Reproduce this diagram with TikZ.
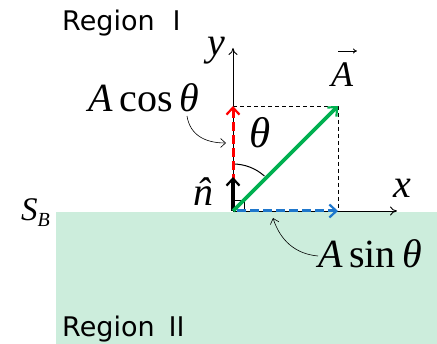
\documentclass[tikz,border=0pt]{standalone}
\usepackage{fontspec}
\setmainfont{Liberation Serif}
\newfontfamily\regfont{DejaVu Sans}
\newfontfamily\numfont{Noto Sans CJK JP}
\usetikzlibrary{arrows.meta}
\definecolor{regbg}{HTML}{CCEDDC}
\definecolor{agreen}{HTML}{00B050}
\definecolor{ared}{HTML}{FF0000}
\definecolor{ablue}{HTML}{1F77CC}
\begin{document}
\begin{tikzpicture}[x=1pt,y=-1pt,
  lbl/.style={inner sep=0pt,anchor=base west},
  mlbl/.style={lbl,font=\fontsize{40}{40}\selectfont\itshape},
  reg/.style={lbl,font=\regfont\fontsize{27}{27}\selectfont},
  axis/.style={line width=0.9pt,-{To[length=7pt,width=9pt]}},
  barb/.style={-{Straight Barb[length=7pt,width=13pt,line width=2.2pt]}},
  thinarr/.style={line width=0.6pt,-{Straight Barb[length=5pt,width=9pt,line width=0.6pt]}},
  guide/.style={line width=0.8pt,dashed,dash pattern=on 4pt off 3pt}]
\useasboundingbox (0,0) rectangle (437,344);
\fill[regbg] (56,212) rectangle (437,344);
% coordinates
\coordinate (O) at (233,211);
\coordinate (ytip) at (233,48);
\coordinate (xtip) at (397,211);
\coordinate (Ptop) at (233,106);
\coordinate (P) at (338,106);
\coordinate (Pbot) at (338,211);
\coordinate (nt) at (233,177);
\coordinate (rs) at (233,183);
\coordinate (bs) at (237,211);
% axes
\draw[axis] (O) -- (ytip);
\draw[axis] (O) -- (xtip);
% dashed box
\draw[guide] (Ptop) -- (P) -- (Pbot);
% right angle
\draw[line width=0.7pt] (233,200) -- (244,200) -- (244,211);
% angle arc
\draw[line width=1pt] (233,164) arc[start angle=-90,end angle=-48,radius=47];
% red dashed
\draw[ared,line width=3pt,dash pattern=on 9pt off 4pt,barb] (rs) -- (Ptop);
% blue dashed
\draw[ablue,line width=3pt,dash pattern=on 9pt off 4pt,barb] (bs) -- (Pbot);
% n hat
\draw[black,line width=4pt,barb] (O) -- (nt);
% green vector
\draw[agreen,line width=3.6pt,barb] (O) -- (P);
% labels
\node[reg] (r1) at (62,31) {Region\hspace{9pt}{\numfont Ⅰ}};
\node[reg] (r2) at (62,337) {Region\hspace{9pt}{\numfont Ⅱ}};
\node[mlbl] (ylab) at (207,56) {y};
\node[mlbl] (xlab) at (393,198) {x};
\node[lbl,font=\fontsize{36}{36}\selectfont\itshape] (Alab) at (331,87) {A};
\coordinate (avs) at (338,51);
\coordinate (ave) at (357,51);
\draw[line width=0.8pt,-{To[length=4pt,width=5pt]}] (avs) -- (ave);
\node[mlbl] (acos) at (88,112) {A\,\upshape cos\,\itshape θ};
\node[lbl,font=\fontsize{43}{43}\selectfont\itshape] (th) at (249,148) {θ};
\node[lbl,font=\fontsize{40}{40}\selectfont\itshape] (nlab) at (193,206) {\accent"02C6 n};
\node[lbl,font=\fontsize{33}{33}\selectfont\itshape] (sb) at (21,221) {S\raisebox{-6pt}{\fontsize{20}{20}\selectfont B}};
\node[mlbl] (asin) at (318,268) {A\,\upshape sin\,\itshape θ};
% curved pointer arrows
\coordinate (c1s) at (187,116);
\coordinate (c1e) at (226,143);
\coordinate (c2s) at (318,256);
\coordinate (c2e) at (273,218);
\draw[thinarr] (c1s) .. controls (190,135) and (205,143) .. (c1e);
\draw[thinarr] (c2s) .. controls (295,254) and (280,240) .. (c2e);
\end{tikzpicture}
\end{document}
